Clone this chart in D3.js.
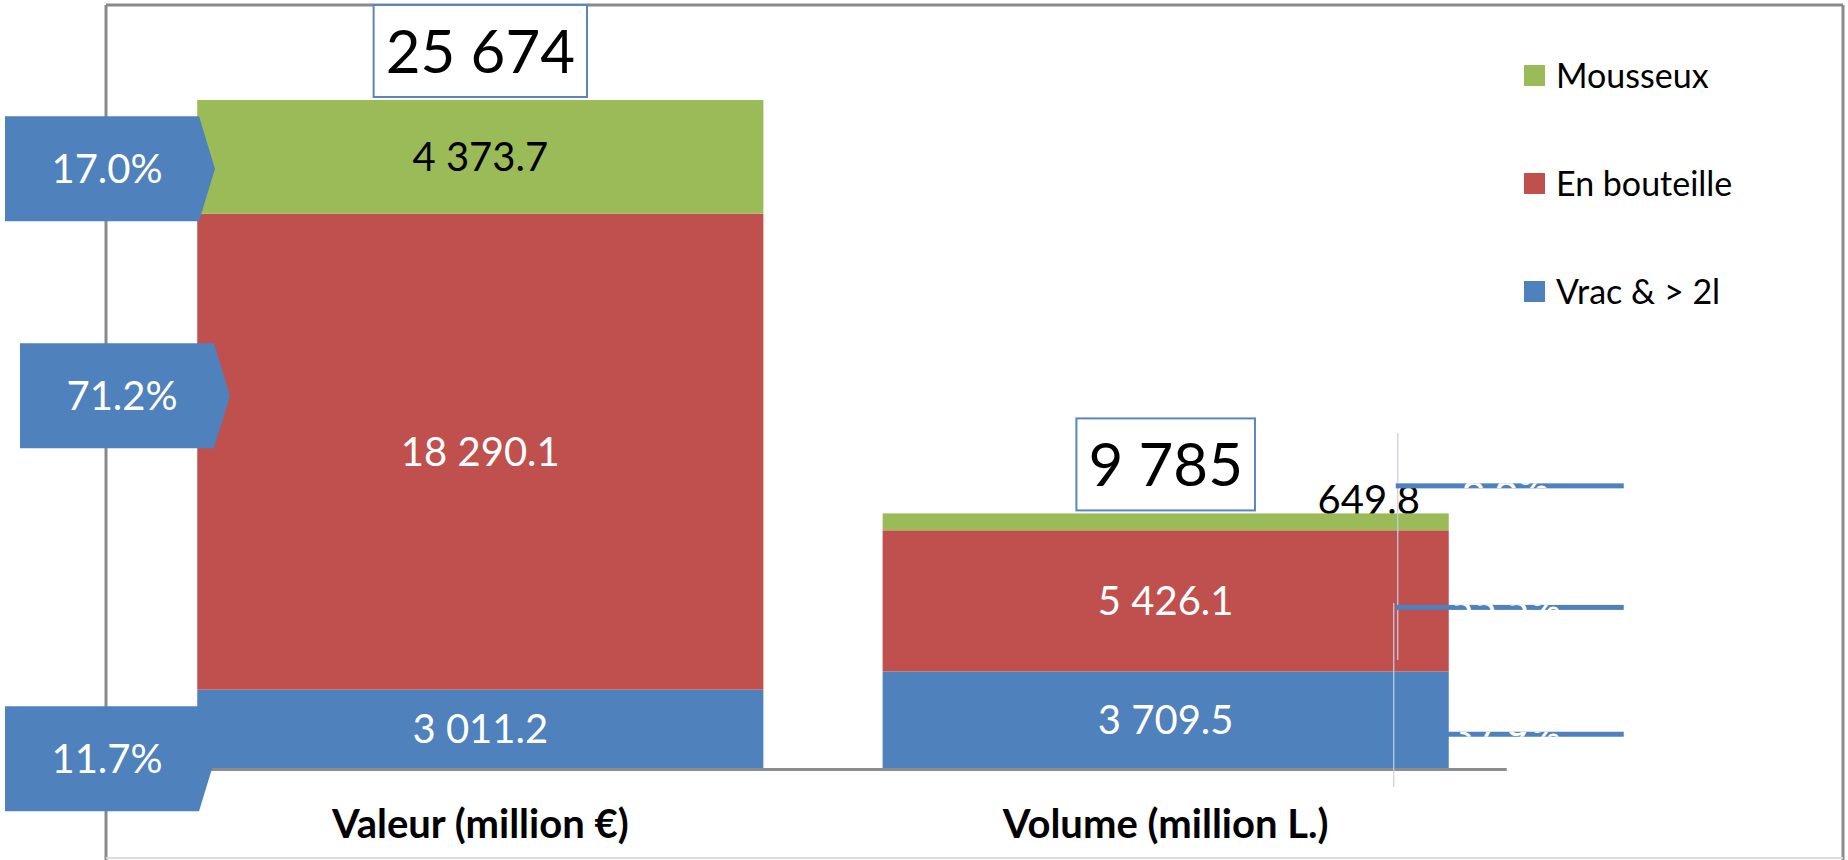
<!DOCTYPE html>
<html lang="fr">
<head>
<meta charset="UTF-8">
<title>Valeur et volume</title>
<script src="https://d3js.org/d3.v7.min.js"></script>
<style>
  body { margin: 0; background: #fff; }
  svg text { font-family: Lato, "Open Sans", sans-serif; }
</style>
</head>
<body>
<div id="chart"></div>
<script>
const categories = ["Valeur (million €)", "Volume (million L.)"];
const series = ["Vrac & > 2l", "En bouteille", "Mousseux"];
const vrac = [3011.2, 3709.5];
const bouteille = [18290.1, 5426.1];
const mousseux = [4373.7, 649.8];
const totals = [25674, 9785];

const width = 1848, height = 860;
const svg = d3.select("#chart").append("svg")
    .attr("width", width)
    .attr("height", height);

const fr = d3.formatLocale({decimal: ".", thousands: " ", grouping: [3], currency: ["", ""]});
const fmt1 = fr.format(",.1f");
const fmt0 = fr.format(",.0f");
const pct = d3.format(".1%");

const x = d3.scaleBand().domain(categories).range([78, 1568])
    .paddingInner(0.174).paddingOuter(0.174);
const y = d3.scaleLinear().domain([0, d3.max(totals)]).range([768, 100]);
const color = d3.scaleOrdinal().domain(series).range(["#4F81BD", "#C0504D", "#9BBB59"]);

const rows = categories.map((c, i) => ({
    cat: c,
    "Vrac & > 2l": vrac[i],
    "En bouteille": bouteille[i],
    "Mousseux": mousseux[i]
}));
const stacked = d3.stack().keys(series)(rows);

// frame
const frameL = 106, frameR = 1843, frameT = 5;
svg.append("line").attr("x1", frameL).attr("x2", frameL).attr("y1", frameT).attr("y2", height)
    .attr("stroke", "#8a8a8a").attr("stroke-width", 3);
svg.append("line").attr("x1", frameL).attr("x2", frameR).attr("y1", frameT).attr("y2", frameT)
    .attr("stroke", "#8a8a8a").attr("stroke-width", 3);
svg.append("line").attr("x1", frameR).attr("x2", frameR).attr("y1", frameT).attr("y2", height)
    .attr("stroke", "#8a8a8a").attr("stroke-width", 3);
svg.append("line").attr("x1", frameL).attr("x2", frameR).attr("y1", 858).attr("y2", 858)
    .attr("stroke", "#dcdcdc").attr("stroke-width", 2);

// baseline
const lastCat = categories[categories.length - 1];
svg.append("line")
    .attr("x1", frameL).attr("x2", x(lastCat) + x.bandwidth() + 58)
    .attr("y1", y(0) + 1.5).attr("y2", y(0) + 1.5)
    .attr("stroke", "#8c8c8c").attr("stroke-width", 3);

// labels of thin segments sit above the bar, partly under it
stacked.forEach(layer => {
    layer.forEach(d => {
        if (y(d[0]) - y(d[1]) < 40) {
            svg.append("text")
                .attr("x", x(d.data.cat) + x.bandwidth() - 80)
                .attr("y", y(d[1]) + 1)
                .attr("text-anchor", "middle")
                .attr("font-size", 40)
                .attr("fill", "#000")
                .text(fmt1(d[1] - d[0]));
        }
    });
});

// stacked bars
svg.append("g").selectAll("g")
    .data(stacked)
    .join("g")
    .attr("fill", d => color(d.key))
    .selectAll("rect")
    .data(d => d)
    .join("rect")
    .attr("x", d => x(d.data.cat))
    .attr("y", d => y(d[1]))
    .attr("width", x.bandwidth())
    .attr("height", d => y(d[0]) - y(d[1]));

// faint leftover guide lines to the right of the volume bar
const volRight = x(categories[1]) + x.bandwidth();
svg.append("line").attr("x1", volRight - 51).attr("x2", volRight - 51).attr("y1", 433).attr("y2", 660)
    .attr("stroke", "#c3d1e4").attr("stroke-width", 1.2);
svg.append("line").attr("x1", volRight - 55).attr("x2", volRight - 55).attr("y1", 603).attr("y2", 787)
    .attr("stroke", "#c3d1e4").attr("stroke-width", 1.2);

// segment value labels
stacked.forEach(layer => {
    layer.forEach(d => {
        if (y(d[0]) - y(d[1]) >= 40) {
            svg.append("text")
                .attr("x", x(d.data.cat) + x.bandwidth() / 2)
                .attr("y", (y(d[0]) + y(d[1])) / 2 + 14)
                .attr("text-anchor", "middle")
                .attr("font-size", 40)
                .attr("fill", layer.key === "Mousseux" ? "#000" : "#fff")
                .text(fmt1(d[1] - d[0]));
        }
    });
});

// left callouts (share of value)
const leftOffset = {"Mousseux": [5, 12], "En bouteille": [20, -56], "Vrac & > 2l": [5, 30]};
stacked.forEach(layer => {
    const d = layer[0];
    const [x0, dy] = leftOffset[layer.key];
    const yc = (y(d[0]) + y(d[1])) / 2 + dy;
    svg.append("path")
        .attr("d", `M${x0},${yc - 52.5}H${x0 + 194}L${x0 + 210},${yc}L${x0 + 194},${yc + 52.5}H${x0}Z`)
        .attr("fill", "#4F81BD");
    svg.append("text")
        .attr("x", x0 + 102)
        .attr("y", yc + 14)
        .attr("text-anchor", "middle")
        .attr("font-size", 40)
        .attr("fill", "#fff")
        .text(pct((d[1] - d[0]) / totals[0]));
});

// right callouts (share of volume), collapsed to thin strips
const rightOffset = {"Mousseux": -36, "En bouteille": 6.5, "Vrac & > 2l": 14.5};
stacked.forEach((layer, j) => {
    const d = layer[1];
    const yc = (y(d[0]) + y(d[1])) / 2 + rightOffset[layer.key];
    const sx = volRight - 53;
    svg.append("clipPath").attr("id", "strip" + j)
        .append("rect").attr("x", sx).attr("y", yc - 2.5).attr("width", 228).attr("height", 5);
    svg.append("rect").attr("x", sx).attr("y", yc - 2.5).attr("width", 228).attr("height", 5)
        .attr("fill", "#4F81BD");
    svg.append("text")
        .attr("clip-path", `url(#strip${j})`)
        .attr("x", volRight + 57)
        .attr("y", yc + 14)
        .attr("text-anchor", "middle")
        .attr("font-size", 40)
        .attr("fill", "#fff")
        .text(pct((d[1] - d[0]) / totals[1]));
});

// totals boxes
categories.forEach((c, i) => {
    const bottom = y(totals[i]) - 3;
    const g = svg.append("g");
    const t = g.append("text")
        .attr("x", x(c) + x.bandwidth() / 2)
        .attr("y", bottom - 24)
        .attr("text-anchor", "middle")
        .attr("font-size", 60)
        .attr("fill", "#000")
        .text(fmt0(totals[i]));
    const w = t.node().getComputedTextLength() + 24;
    g.insert("rect", "text")
        .attr("x", x(c) + x.bandwidth() / 2 - w / 2)
        .attr("y", bottom - 92)
        .attr("width", w)
        .attr("height", 92)
        .attr("fill", "#fff")
        .attr("stroke", "#5a86bd")
        .attr("stroke-width", 2);
});

// category labels
svg.append("g").selectAll("text")
    .data(categories)
    .join("text")
    .attr("x", d => x(d) + x.bandwidth() / 2)
    .attr("y", 838)
    .attr("text-anchor", "middle")
    .attr("font-size", 40)
    .attr("font-weight", "bold")
    .attr("fill", "#000")
    .text(d => d);

// legend
const legend = svg.append("g").selectAll("g")
    .data(series.slice().reverse())
    .join("g")
    .attr("transform", (d, i) => `translate(1524,${75.5 + i * 108})`);
legend.append("rect")
    .attr("y", -10.5).attr("width", 21).attr("height", 21)
    .attr("fill", d => color(d));
legend.append("text")
    .attr("x", 32).attr("y", 12)
    .attr("font-size", 34)
    .attr("fill", "#000")
    .text(d => d);
</script>
</body>
</html>
